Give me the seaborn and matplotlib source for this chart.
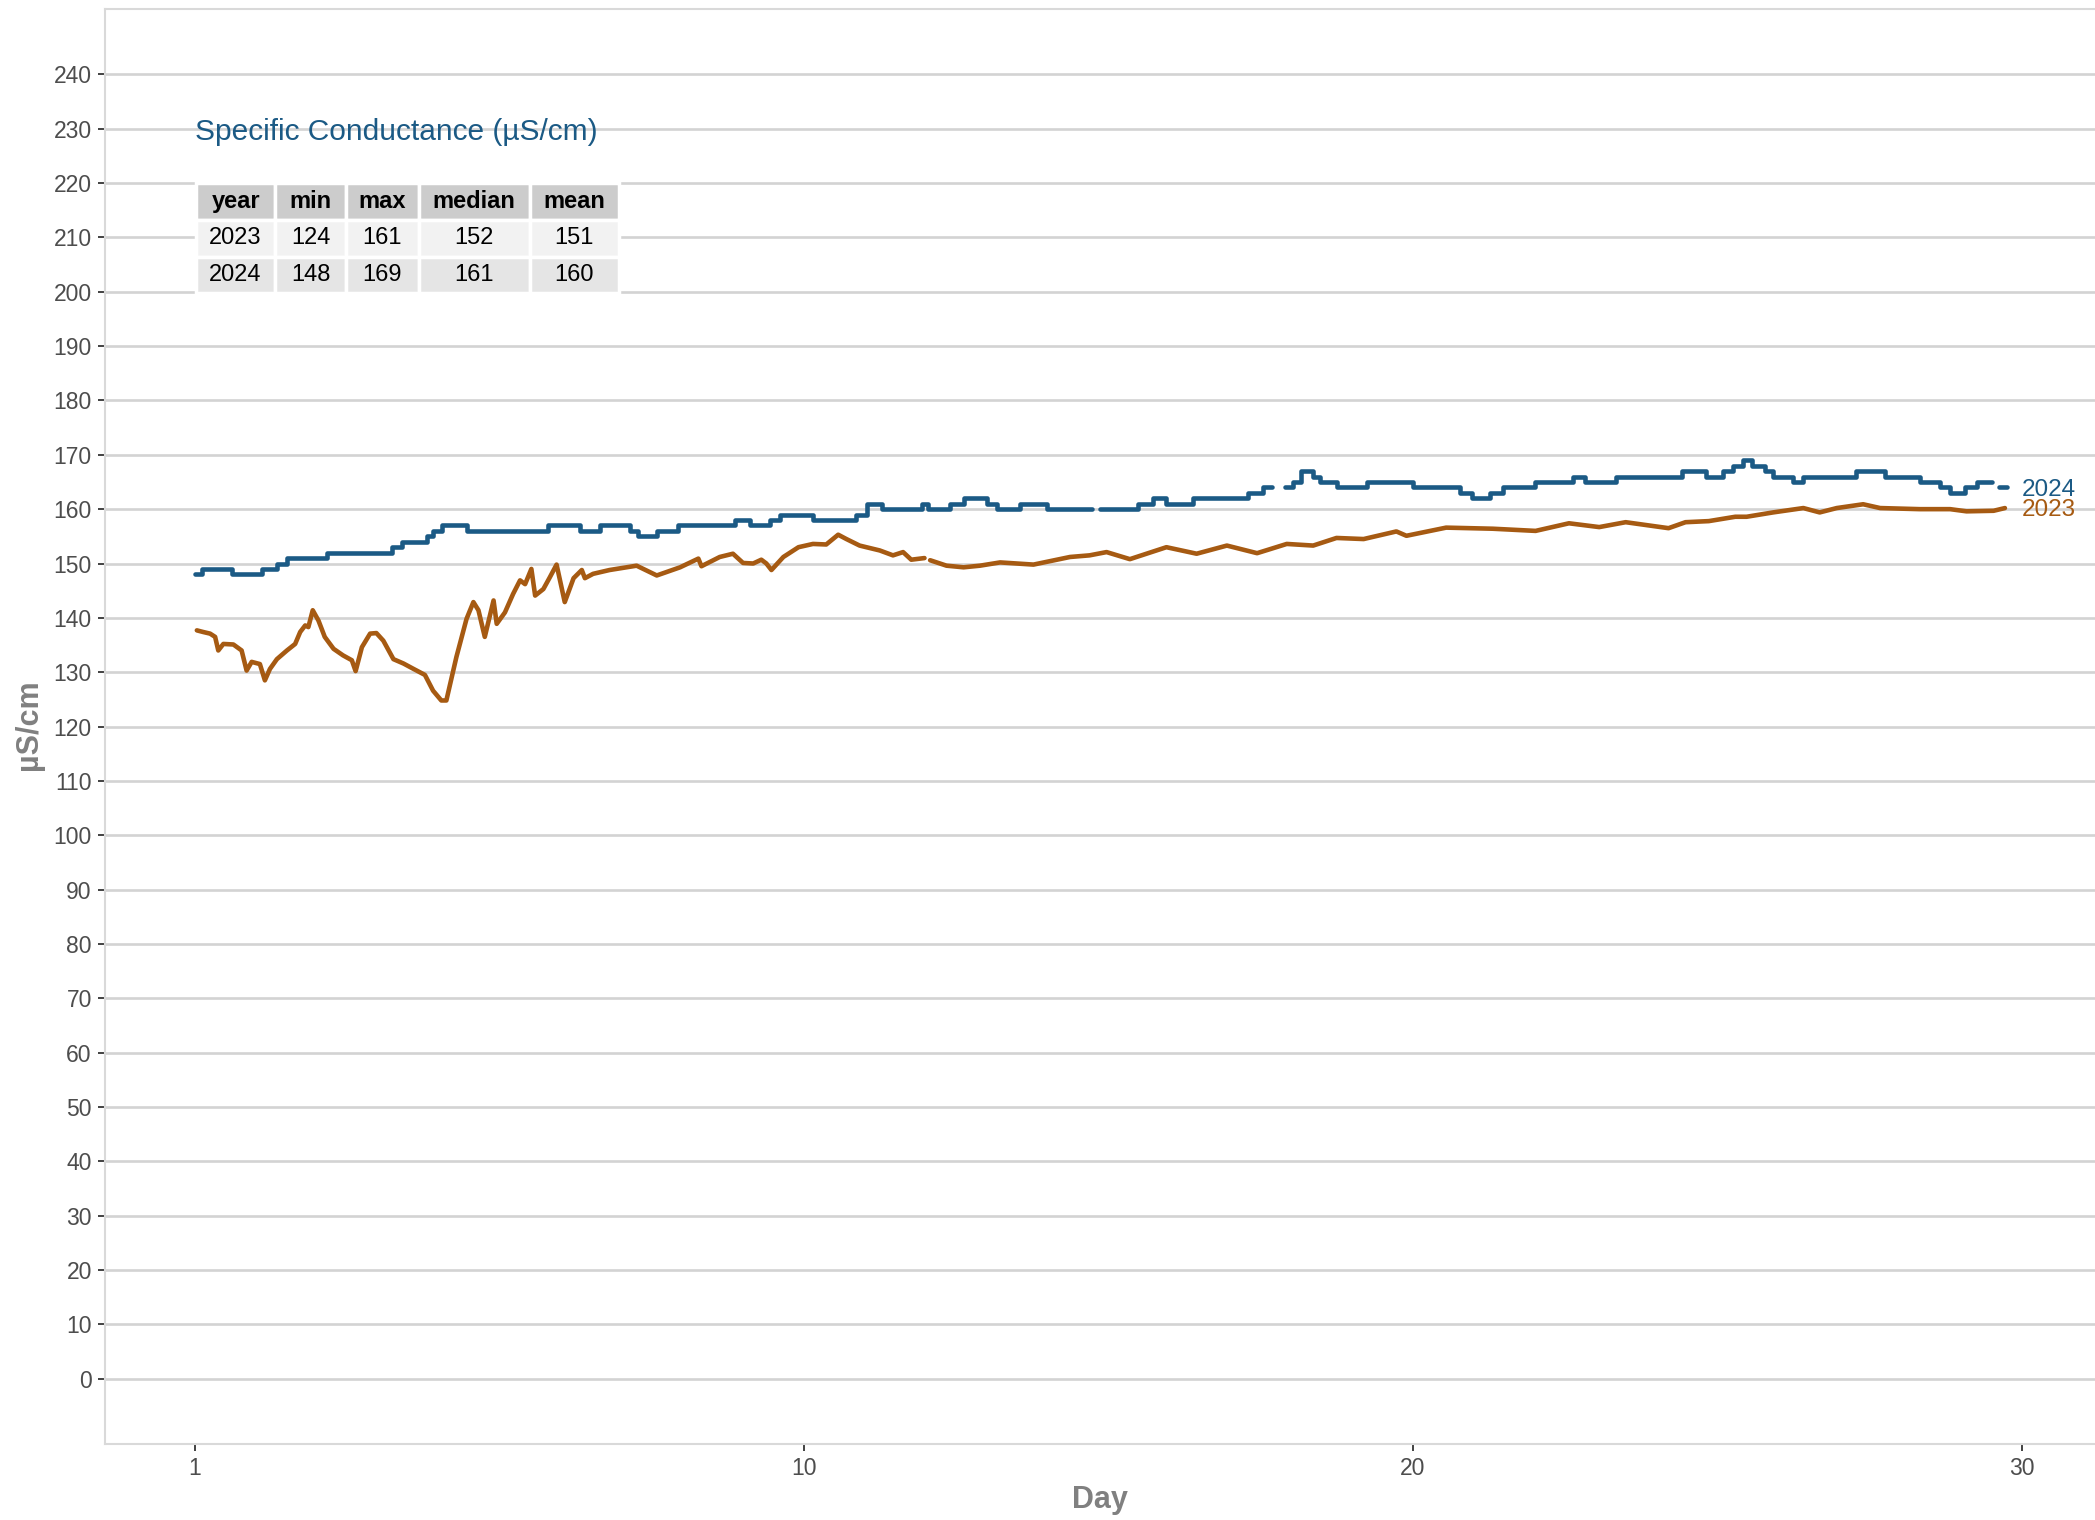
import numpy as np
import pandas as pd
import matplotlib
matplotlib.use("Agg")
import matplotlib.pyplot as plt
import seaborn as sns

# ---------------------------------------------------------------------------
# Data (days since the 1st vs. µS/cm)
# ---------------------------------------------------------------------------

# 2024 is logged in whole µS/cm steps; NaN marks a gap in the record
day_2024 = [0.000, 0.114, 0.600, 1.097, 1.345, 1.510, 2.162, 3.228, 3.393, 3.807,
            3.910, 4.055, 4.459, 5.803, 6.321, 6.652, 7.138, 7.283, 7.583, 7.935,
            8.866, 9.114, 9.445, 9.611, 10.148, 10.862, 11.028, 11.276, 11.938, 12.041,
            12.393, 12.621, 13.003, 13.169, 13.448, 13.552, 13.986, 14.731, 14.752, 14.855,
            15.486, 15.734, 15.952, 16.396, 17.296, 17.545, 17.690, 17.710, 17.897, 18.031,
            18.166, 18.362, 18.466, 18.745, 19.241, 20.007, 20.772, 20.969, 21.269, 21.486,
            22.003, 22.634, 22.821, 23.338, 24.414, 24.817, 25.097, 25.262, 25.428, 25.562,
            25.780, 25.914, 26.245, 26.411, 27.280, 27.745, 28.325, 28.656, 28.821, 29.069,
            29.255, 29.504, 29.535, 29.617, 29.752]
cond_2024 = [148, 149, 148, 149, 150, 151, 152, 153, 154, 155,
             156, 157, 156, 157, 156, 157, 156, 155, 156, 157,
             158, 157, 158, 159, 158, 159, 161, 160, 161, 160,
             161, 162, 161, 160, 160, 161, 160, 160, np.nan, 160,
             161, 162, 161, 162, 163, 164, 164, np.nan, 164, 165,
             167, 166, 165, 164, 165, 164, 163, 162, 163, 164,
             165, 166, 165, 166, 167, 166, 167, 168, 169, 168,
             167, 166, 165, 166, 167, 166, 165, 164, 163, 164,
             165, 165, np.nan, 164, 164]

day_2023 = [0.031, 0.134, 0.248, 0.331, 0.383, 0.466, 0.631, 0.766, 0.848, 0.931,
            1.066, 1.148, 1.231, 1.345, 1.510, 1.645, 1.728, 1.810, 1.862, 1.934,
            2.028, 2.131, 2.276, 2.431, 2.576, 2.638, 2.741, 2.876, 2.979, 3.093,
            3.259, 3.424, 3.590, 3.776, 3.910, 4.045, 4.128, 4.293, 4.459, 4.572,
            4.655, 4.759, 4.903, 4.955, 5.090, 5.224, 5.338, 5.421, 5.524, 5.586,
            5.721, 5.824, 5.938, 6.072, 6.217, 6.352, 6.403, 6.538, 6.807, 7.252,
            7.583, 7.966, 8.266, 8.317, 8.617, 8.834, 9.000, 9.166, 9.300, 9.383,
            9.466, 9.662, 9.910, 10.148, 10.366, 10.562, 10.697, 10.914, 11.245, 11.462,
            11.628, 11.762, 11.979, 12.021, 12.072, 12.341, 12.621, 12.890, 13.221, 13.769,
            14.369, 14.690, 14.969, 15.352, 15.952, 16.448, 16.945, 17.441, 17.928, 18.362,
            18.745, 19.190, 19.728, 19.893, 20.545, 21.310, 22.014, 22.562, 23.059, 23.493,
            24.197, 24.476, 24.859, 25.293, 25.479, 25.914, 26.411, 26.679, 26.959, 27.393,
            27.672, 28.325, 28.821, 29.090, 29.535, 29.721]
cond_2023 = [137.7, 137.4, 137.1, 136.5, 134.0, 135.2, 135.1, 134.0, 130.3, 131.9,
             131.5, 128.5, 130.6, 132.4, 134.0, 135.2, 137.4, 138.6, 138.3, 141.4,
             139.5, 136.5, 134.3, 133.1, 132.2, 130.2, 134.6, 137.1, 137.2, 135.8,
             132.4, 131.6, 130.6, 129.5, 126.6, 124.8, 124.8, 132.8, 139.8, 142.9,
             141.4, 136.5, 143.2, 138.9, 141.0, 144.4, 146.9, 146.2, 149.0, 144.1,
             145.3, 147.4, 149.8, 142.9, 147.3, 148.8, 147.3, 148.1, 148.8, 149.6,
             147.8, 149.3, 150.9, 149.5, 151.2, 151.8, 150.1, 150.0, 150.7, 150.0,
             148.8, 151.2, 153.0, 153.6, 153.5, 155.3, 154.5, 153.3, 152.4, 151.5,
             152.1, 150.7, 151.0, np.nan, 150.6, 149.6, 149.3, 149.6, 150.2, 149.8,
             151.2, 151.5, 152.1, 150.8, 153.0, 151.8, 153.3, 151.9, 153.6, 153.3,
             154.7, 154.5, 155.9, 155.1, 156.6, 156.4, 156.0, 157.4, 156.7, 157.6,
             156.5, 157.6, 157.8, 158.6, 158.6, 159.4, 160.2, 159.4, 160.2, 160.9,
             160.2, 160.0, 160.0, 159.6, 159.7, 160.2]

stat_cols = ["year", "min", "max", "median", "mean"]
stat_rows = [["2023", "124", "161", "152", "151"],
             ["2024", "148", "169", "161", "160"]]

title_text = "Specific Conductance (µS/cm)"
x_ticks = [0, 10, 20, 30]
x_tick_labels = ["1", "10", "20", "30"]
y_ticks = list(range(0, 250, 10))

BLUE = "#1B5A85"
BROWN = "#A65A12"
TEXT_GREY = "#4D4D4D"
LABEL_GREY = "#808080"


def to_frame(days, values):
    """Turn a series into a frame, splitting it into segments at NaN gaps."""
    df = pd.DataFrame({"day": days, "cond": values})
    df["segment"] = df["cond"].isna().cumsum()
    return df.dropna()


sns.set_theme(style="white")
plt.rcParams["font.family"] = ["Liberation Sans", "DejaVu Sans"]

fig = plt.figure(figsize=(20.95, 15.2), dpi=100)
ax = fig.add_axes([0.0501, 0.05, 0.9499, 0.944])

df23 = to_frame(day_2023, cond_2023)
df24 = to_frame(day_2024, cond_2024)

sns.lineplot(data=df23, x="day", y="cond", units="segment", estimator=None,
             color=BROWN, lw=3.3, ax=ax)
sns.lineplot(data=df24, x="day", y="cond", units="segment", estimator=None,
             drawstyle="steps-post", color=BLUE, lw=3.3, ax=ax)

# direct labels at the line ends
ax.text(30.0, 163.5, "2024", color=BLUE, fontsize=17.5, ha="left", va="center")
ax.text(30.0, 159.8, "2023", color=BROWN, fontsize=17.5, ha="left", va="center")

ax.text(0.0, 229.4, title_text, color=BLUE, fontsize=21.5, ha="left", va="center")

# summary table
tbl = ax.table(cellText=stat_rows, colLabels=stat_cols, cellLoc="center",
               colLoc="center", bbox=[0.0457, 0.802, 0.2126, 0.0766],
               colWidths=[79, 70, 73, 110, 89])
tbl.auto_set_font_size(False)
tbl.set_fontsize(17)
tbl.set_zorder(4)
row_bg = ["#CCCCCC", "#F2F2F2", "#E5E5E5"]
for (r, c), cell in tbl.get_celld().items():
    cell.set_facecolor(row_bg[r])
    cell.set_edgecolor("white")
    cell.set_linewidth(2.5)
    cell.get_text().set_color("black")
    if r == 0:
        cell.get_text().set_fontweight("bold")

# axes styling
ax.set_xlim(-1.478, 31.2)
ax.set_ylim(-12, 252)
ax.set_xticks(x_ticks)
ax.set_xticklabels(x_tick_labels)
ax.set_yticks(y_ticks)
ax.yaxis.grid(True, color="#D3D3D3", lw=1.9)
ax.xaxis.grid(False)
ax.set_axisbelow(True)
ax.tick_params(axis="both", which="major", length=5, width=1.3, color="#333333",
               labelsize=16.5, labelcolor=TEXT_GREY, pad=4.5, bottom=True, left=True)
for side in ["top", "left", "bottom"]:
    ax.spines[side].set_color("#D9D9D9")
    ax.spines[side].set_linewidth(1.5)
ax.spines["right"].set_visible(False)

ax.set_xlabel("Day", fontsize=22, fontweight="bold", color=LABEL_GREY)
ax.set_ylabel("µS/cm", fontsize=22, fontweight="bold", color=LABEL_GREY)
ax.xaxis.label.set_va("center")
ax.yaxis.label.set_va("center")
ax.xaxis.set_label_coords(0.5, -0.039)
ax.yaxis.set_label_coords(-0.0382, 0.501)

fig.savefig("out.png", dpi=100, facecolor="white")
